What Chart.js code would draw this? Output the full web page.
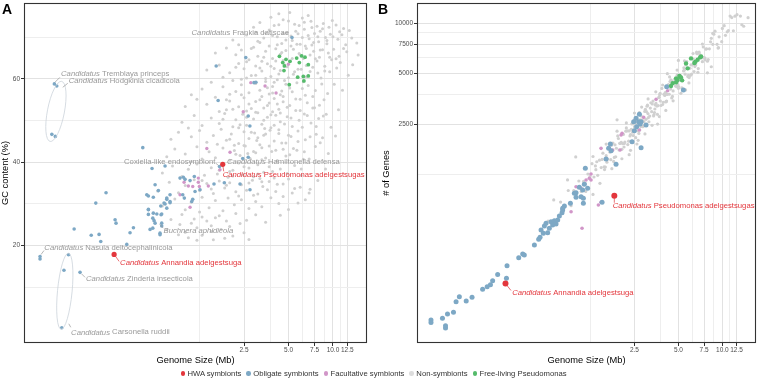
<!DOCTYPE html>
<html>
<head>
<meta charset="utf-8">
<script src="https://cdn.jsdelivr.net/npm/chart.js@4/dist/chart.umd.min.js"></script>
<style>
  html, body { margin: 0; padding: 0; background: #fff; }
  #wrap { position: relative; width: 759px; height: 383px; font-family: "Liberation Sans", Arial, sans-serif; }
  canvas { position: absolute; left: 0; top: 0; }
  #legend { position: absolute; top: 368px; left: 180.5px; display: flex; gap: 5px; font-size: 7.7px; color: #333; line-height: 11px; white-space: nowrap; }
  #legend span { display: flex; align-items: center; }
  #legend i { display: inline-block; width: 4.4px; height: 4.4px; border-radius: 50%; margin-right: 2.5px; }
</style>
</head>
<body>
<div id="wrap">
  <canvas id="chartA" width="759" height="383"></canvas>
  <canvas id="chartB" width="759" height="383"></canvas>
  <div id="legend"></div>
</div>
<script>
// ---- datos: tamaño de genoma (Mb), contenido GC (%) y número de genes ----
const groupNames = ['HWA symbionts', 'Obligate symbionts', 'Facultative symbionts', 'Non-symbionts', 'Free-living Pseudomonas'];
const groupColors = ['#e3363c', '#7da8c5', '#d196c8', '#d0d0d0', '#55bb6b'];

const xGrid = [1.25, 2.5, 3.75, 5, 6.25, 7.5, 8.75, 10, 11.25, 12.5];
const xTickValues = [2.5, 5, 7.5, 10, 12.5];
const xTickLabels = ['2.5', '5.0', '7.5', '10.0', '12.5'];
const gcGrid = [10, 20, 30, 40, 50, 60, 70];
const gcTicks = [20, 40, 60];
const geneGrid = [1250, 2500, 3750, 5000, 6250, 7500, 8750, 10000];
const geneTicks = [2500, 5000, 7500, 10000];

// Panel A: [Mb, GC %]
const hwaA = [[0.330, 17.9], [1.794, 39.5]];
const obligateA = [
  [5.28,69.9],[2.57,65.1],[1.62,63.1],[2.92,59.1],[3.01,59.2],[1.67,54.8],[2.67,51.1],[2.74,48.7],
  [0.130,58.8],[0.135,58.3],[0.125,46.7],[0.132,46.2],[0.516,43.5],[0.596,38.5],[0.73,39.1],
  [2.45,40.9],[2.67,41.2],[0.291,32.7],[0.248,30.2],[0.177,24.0],[0.231,22.5],[0.261,22.7],[0.268,21.0],
  [0.335,26.2],[0.34,25.4],[0.402,20.3],[0.446,24.3],[0.423,23.1],[0.549,32.2],[0.608,31.6],[0.563,28.7],
  [0.563,27.5],[0.686,27.4],[0.730,30.0],[0.789,30.3],[0.75,29.0],[0.693,25.4],[0.675,23.0],[0.603,24.2],
  [0.789,32.2],[0.75,31.4],[0.986,31.4],[0.962,32.2],[0.162,17.8],[0.151,14.1],[0.146,0.3],[0.104,17.4],
  [0.104,16.8],[0.194,13.6],[0.922,36.2],[0.971,36.4],[1.078,35.6],[1.152,36.6],[1.165,33.0],[1.259,33.4],
  [1.566,34.8],[1.124,31.1],[0.625,34.6],[0.658,33.2],[0.563,31.9],[0.75,31.1],[0.719,30.2],[0.789,30.6],
  [0.683,29.5],[0.563,28.6],[0.608,27.8],[0.693,27.6],[0.642,27.6],[0.603,26.6],[0.615,26.0],[0.625,25.4],
  [0.578,23.9],[0.693,24.7],[0.675,22.6],[1.839,35.1],[2.349,34.8],[2.744,33.4],[0.997,35.9],[1.107,30.6],
  [1.706,39.0]
];
const facultativeA = [
  [2.78,59.1],[3.47,58.3],[4.12,56.6],[2.47,52.1],[1.40,43.3],[2.01,42.4],[4.99,63.5],[0.922,32.2],
  [1.078,29.2],[0.982,35.2],[1.05,34.3],[1.124,34.2],[1.226,35.2],[1.246,34.2],[1.433,34.3],[1.718,38.2],
  [1.226,36.2]
];
const pseudoA = [
  [4.34,65.4],[4.57,63.9],[4.81,64.7],[4.69,63.1],[5.12,64.2],[5.68,65.0],[6.14,65.5],[6.47,65.2],
  [5.92,63.9],[6.81,63.4],[4.66,62.0],[5.77,60.4],[6.30,60.6],[6.81,60.7],[6.36,59.5],[5.06,58.6]
];
const nonSymA = [
  [2.9,72.4],[3.2,73.5],[3.8,74.8],[4.0,72.8],[4.3,75.6],[4.6,74.2],[5.1,75.9],[5.5,73.1],[6.2,74.6],[6.8,75.2],
  [7.1,73.8],[7.8,72.6],[8.6,73.3],[9.4,72.4],[9.9,74.0],[10.5,72.9],[11.8,72.1],[12.9,71.6],
  [2.1,69.3],[2.3,68.2],[2.6,70.5],[3.0,71.2],[3.2,68.7],[3.4,69.8],[3.7,71.7],[4.2,70.1],[4.5,68.5],[4.9,71.0],
  [5.3,69.2],[5.8,70.8],[6.0,68.3],[6.4,71.9],[6.9,69.6],[7.2,68.1],[7.5,70.9],[8.0,68.9],[8.2,71.4],[8.9,69.9],
  [9.1,68.4],[9.6,70.7],[10.8,69.5],[11.5,70.6],[12.2,68.2],[13.4,69.8],[14.5,68.6],
  [1.6,66.2],[1.9,67.4],[2.2,65.8],[2.4,66.9],[2.7,64.6],[2.9,67.6],[3.1,65.4],[3.3,64.2],[3.5,66.6],[3.9,64.9],
  [4.1,67.2],[4.4,65.9],[4.6,64.4],[4.8,66.8],[5.2,67.9],[5.9,66.1],[6.3,64.9],[6.6,67.3],[7.0,65.7],[7.4,66.6],
  [7.8,64.3],[8.1,65.2],[8.5,67.0],[9.3,66.2],[9.8,64.6],[10.1,67.1],[11.0,65.4],[11.2,63.9],[12.4,66.5],[13.6,63.4],[14.8,65.7],
  [1.4,62.1],[1.7,63.3],[1.8,60.4],[2.0,61.5],[2.3,63.7],[2.5,62.4],[2.6,60.2],[2.8,60.8],[3.0,63.1],[3.3,61.9],
  [3.5,60.1],[3.6,63.6],[3.8,60.6],[4.0,62.5],[4.3,61.2],[4.7,63.4],[5.0,60.3],[5.4,61.1],[6.1,62.3],[6.6,60.5],
  [7.3,62.8],[7.9,61.4],[8.3,60.2],[8.8,63.0],[9.5,61.7],[10.6,62.6],[12.7,60.9],
  [1.1,56.2],[1.3,57.6],[1.5,59.2],[1.8,58.1],[2.0,56.3],[2.1,59.6],[2.2,57.0],[2.4,58.6],[2.7,56.7],[3.0,58.9],
  [3.2,57.3],[3.5,59.4],[3.7,56.4],[3.9,58.2],[4.2,59.8],[4.4,56.2],[4.5,57.1],[4.8,58.7],[5.3,56.9],[5.7,59.1],
  [6.2,57.7],[6.5,56.1],[6.8,58.4],[7.6,57.2],[8.4,58.8],[9.2,56.5],[10.2,58.7],[11.6,57.3],
  [1.0,53.4],[1.2,55.1],[1.4,53.9],[1.6,55.6],[1.7,52.2],[1.9,52.6],[2.0,54.7],[2.3,53.3],[2.5,55.5],[2.6,52.3],
  [2.8,52.9],[3.0,54.6],[3.3,55.8],[3.4,53.0],[3.7,54.2],[3.9,52.1],[4.0,55.3],[4.3,52.7],[4.6,54.5],[5.1,53.6],
  [5.6,55.2],[6.0,52.4],[6.7,54.3],[7.3,55.8],[7.5,53.1],[8.1,53.7],[8.7,55.0],[10.9,52.6],
  [0.95,49.6],[1.05,48.2],[1.15,51.2],[1.3,48.8],[1.5,50.6],[1.7,49.3],[1.85,51.7],[2.1,48.5],[2.2,50.2],[2.35,49.0],
  [2.45,51.5],[2.6,48.9],[2.9,50.4],[3.1,51.9],[3.3,49.1],[3.45,48.1],[3.6,50.8],[3.8,48.3],[4.1,51.3],[4.4,49.7],
  [4.9,50.9],[5.3,48.6],[5.9,50.1],[6.4,51.6],[7.1,49.4],[8.0,50.5],[9.0,51.5],[9.7,48.4],
  [0.8,45.5],[0.9,47.2],[1.1,46.1],[1.25,47.6],[1.4,44.8],[1.55,46.4],[1.65,44.3],[1.75,47.9],[1.9,45.3],[2.05,46.8],
  [2.15,44.1],[2.3,44.5],[2.5,47.3],[2.7,45.7],[2.95,47.0],[3.05,45.2],[3.2,44.2],[3.4,46.5],[3.75,47.7],[4.0,45.1],
  [4.3,46.9],[4.8,44.6],[5.2,46.2],[5.8,47.5],[6.5,45.4],[7.7,46.7],[8.5,45.9],[10.4,46.3],
  [0.75,41.3],[0.85,43.2],[1.0,42.0],[1.1,40.2],[1.2,43.7],[1.3,40.8],[1.45,42.5],[1.6,41.1],[1.8,43.4],[2.0,40.5],
  [2.15,42.8],[2.35,41.6],[2.55,43.9],[2.65,42.1],[2.75,40.9],[3.0,42.3],[3.3,43.5],[3.5,41.0],[3.85,42.6],[4.2,40.4],
  [4.6,43.1],[5.1,41.8],[5.7,42.9],[6.3,40.7],[6.9,40.8],[7.6,43.8],[9.3,42.1],
  [0.7,37.4],[0.82,39.1],[0.95,36.6],[1.05,38.3],[1.2,39.6],[1.35,36.9],[1.5,38.7],[1.65,37.2],[1.8,39.3],[1.95,36.4],
  [2.0,37.8],[2.1,38.1],[2.3,39.8],[2.45,37.0],[2.7,38.6],[2.9,36.5],[3.1,39.4],[3.2,36.1],[3.4,37.6],[3.7,38.9],
  [4.0,36.2],[4.4,38.4],[4.9,37.3],[5.5,39.2],[6.1,36.8],[7.9,35.6],[8.9,38.4],
  [0.65,33.1],[0.78,35.2],[0.9,32.7],[1.0,34.4],[1.15,35.8],[1.25,33.2],[1.4,34.9],[1.55,32.5],[1.7,35.5],[1.85,33.8],
  [2.0,35.1],[2.2,32.9],[2.4,34.6],[2.6,33.3],[2.85,35.7],[3.1,32.4],[3.35,34.2],[3.7,35.4],[4.1,33.0],[4.6,34.8],
  [5.3,32.6],[6.0,34.0],[6.9,32.6],[7.0,33.5],
  [0.7,29.5],[0.85,31.2],[1.0,28.6],[1.1,30.4],[1.25,28.1],[1.3,31.6],[1.45,29.1],[1.6,30.8],[1.8,28.4],[1.95,31.4],
  [2.15,29.8],[2.4,31.0],[2.7,28.9],[3.0,30.6],[3.3,29.3],[3.8,31.5],[4.3,30.1],[5.0,28.7],[5.8,30.2],[6.5,31.0],
  [0.75,23.8],[0.8,26.3],[0.95,27.5],[1.1,25.4],[1.2,24.3],[1.3,26.9],[1.5,24.8],[1.7,27.2],[1.9,25.9],[2.2,27.7],
  [2.6,26.1],[3.0,27.4],[3.5,25.6],[4.4,27.3],[0.9,22.6],[1.2,21.3],[1.5,23.4],
  [0.92,25.1],[1.0,23.2],[1.05,21.9],[1.15,26.4],[1.3,22.5],[1.4,25.9],[1.55,21.4],[1.6,26.7],[1.75,23.9],[1.85,21.8],
  [2.0,24.6],[2.1,22.3],[2.35,25.3],[2.5,23.1],[2.7,21.5],
  [2.2,62.8],[2.4,59.9],[2.6,64.1],[2.8,67.3],[3.0,60.9],[3.1,69.0],[3.2,62.6],[3.4,65.2],[3.5,71.0],[3.6,57.9],
  [3.7,67.9],[3.8,63.0],[3.9,70.4],[4.0,59.2],[4.1,64.3],[4.2,68.2],[4.3,73.0],[4.4,62.0],[4.5,66.3],[4.6,70.9],
  [4.7,59.6],[4.8,69.3],[4.9,62.9],[5.0,73.9],[5.1,57.8],[5.2,70.3],[5.3,64.9],[5.4,67.1],[5.5,61.7],[5.6,71.4],
  [5.7,68.3],[5.8,62.3],[5.9,72.8],[6.0,65.7],[6.2,69.9],[6.3,59.3],[6.4,73.6],[6.5,67.9],[6.6,63.2],[6.8,70.4],
  [7.0,61.8],[7.2,72.3],[7.4,68.7],[7.6,64.8],[7.9,70.1],[8.2,66.9],[8.5,72.0],[8.8,61.9],[9.1,69.2],[9.5,65.2],
  [10.0,70.1],[10.5,64.8],[11.1,71.3],[11.8,67.3],
  [1.8,50.3],[1.9,55.0],[2.0,45.5],[2.1,52.7],[2.2,41.9],[2.3,48.3],[2.4,56.2],[2.5,44.0],[2.6,50.8],[2.7,54.0],
  [2.8,47.2],[2.9,42.6],[3.0,52.0],[3.1,45.9],[3.2,55.0],[3.3,40.6],[3.4,50.1],[3.5,46.8],[3.6,53.6],[3.7,43.9],
  [3.8,51.4],[3.9,56.6],[4.0,48.9],[4.1,42.9],[4.2,54.0],[4.3,47.8],[4.4,51.8],[4.5,44.6],[4.6,55.8],[4.7,49.2],
  [4.8,41.5],[4.9,53.2],[5.0,46.5],[5.2,50.6],[5.4,43.3],[5.6,52.4],[5.8,45.0],[6.0,55.1],[6.2,48.4],[6.4,42.5],
  [6.7,51.2],[7.0,46.1],[7.3,53.0],[7.7,48.6],[8.2,44.7],[8.6,51.1],
  [1.3,35.6],[1.5,33.6],[1.7,38.1],[1.9,34.5],[2.1,36.7],[2.3,31.9],[2.5,38.9],[2.7,35.0],[2.9,32.1],[3.1,37.2],
  [3.3,35.3],[3.6,33.4],[3.9,37.8],[4.2,34.7],[4.6,31.8],[5.0,36.0],[5.5,33.7],[6.1,38.4]
];

// Panel B: [Mb, número de genes]
const hwaB = [[0.327, 279], [1.82, 933]];
const obligateB = [
  [0.101,169],[0.101,163],[0.121,173],[0.131,183],[0.144,188],[0.127,156],[0.127,151],[0.158,232],[0.150,217],
  [0.176,219],[0.193,231],[0.228,258],[0.245,267],[0.258,274],[0.267,290],[0.289,316],[0.335,356],[0.332,300],
  [0.403,398],[0.429,418],[0.44,413],[0.516,473],[0.552,512],[0.564,526],[0.573,582],[0.594,556],[0.604,615],
  [0.620,638],[0.636,561],[0.653,596],[0.671,652],[0.688,623],[0.707,661],[0.726,632],[0.745,668],[0.765,706],
  [0.798,738],[0.806,766],[0.828,810],[0.969,964],[0.995,912],[1.117,840],[1.117,900],[1.50,852],
  [1.152,1359],[1.134,1091],[1.195,1033],[1.105,1009],[1.048,1047],[0.995,972],[0.910,840],[0.806,784],[1.077,920],
  [1.597,1545],[1.71,1899],[1.664,1790],[1.729,1732],[1.87,1436],[2.407,1960],[2.775,1805],[2.496,2280],[2.588,2409],
  [2.469,2581],[2.672,2581],[2.775,2581],[2.732,2500],[3.002,2466],[2.702,2857],[2.565,2704],[4.155,4177],[5.408,3992]
];
const facultativeB = [
  [0.920,748],[1.094,596],[1.415,821],[1.476,852],[2.056,2200],[1.992,1749],[1.26,1257],[1.227,1185],[1.26,1157],
  [1.165,1157],[1.077,1033],[0.995,1055],[2.496,2617],[3.516,3512],[4.22,3954],[2.89,2742],[2.70,2302],[1.476,1790],
  [2.024,2149],[1.773,1749],[5.13,4860]
];
const pseudoB = [
  [6.10,6170],[6.54,5890],[7.04,6260],[5.64,5760],[5.79,5380],[4.82,4690],[5.08,4840],[4.57,4380],[4.45,4220],
  [5.21,4750],[4.94,4580],[7.15,6340],[6.77,6060],[5.30,4560],[4.82,4440],[6.43,5790]
];
const nonSymB = [
  [0.64,657],[0.71,652],[0.78,855],[0.83,798],[0.88,1002],[0.92,814],[0.96,1001],[1.0,970],[1.04,1142],[1.08,989],
  [1.12,1135],[1.16,989],[1.2,1258],[1.24,1212],[1.28,1450],[1.32,1207],[1.36,1335],[1.4,1235],[1.44,1522],[1.48,1374],
  [1.52,1675],[1.56,1337],[1.6,1618],[1.64,1544],[1.68,1792],[1.72,1532],[1.76,1735],[1.8,1495],[1.84,1880],[1.88,1792],
  [1.92,2123],[1.96,1750],[2.0,1918],[2.05,1767],[2.1,2169],[2.15,1950],[2.2,2371],[2.25,1886],[2.3,2275],[2.35,2165],
  [2.4,2505],[2.45,2136],[2.5,2413],[2.55,2073],[2.6,2602],[2.65,2474],[2.7,2926],[2.76,2415],[2.82,2650],[2.88,2433],
  [2.94,2976],[3.0,2669],[3.07,3243],[3.14,2580],[3.21,3113],[3.28,2963],[3.35,3428],[3.43,2931],[3.51,3321],[3.59,2860],
  [3.67,3599],[3.76,3437],[3.85,4084],[3.94,3375],[4.03,3707],[4.13,3414],[4.23,4189],[4.33,3768],[4.44,4588],[4.55,3656],
  [4.66,4419],[4.78,4221],[4.9,4900],[5.02,4192],[5.15,4761],[5.28,4110],[5.42,5192],[5.56,4967],[5.7,5905],[5.85,4894],
  [6.0,5389],[6.16,4972],[6.32,6112],[6.49,5512],[6.66,6717],[6.84,5363],[7.02,6495],[7.21,6212],[7.4,7219],[7.6,6191],
  [7.8,7034],[8.0,6073],[8.3,7749],[8.6,7483],[8.9,8977],[9.2,7489],[9.5,8299],[9.9,7765],[10.3,9671],[10.8,8895],
  [11.3,11041],[11.9,9025],[12.6,11257],[13.3,11039],
  [1.5,1537],[1.62,1480],[1.74,1868],[1.86,1595],[1.98,1919],[2.08,1910],[2.18,2267],[2.28,1975],[2.38,2327],[2.48,2301],
  [2.58,2729],[2.68,2198],[2.78,2797],[2.9,2585],[3.02,2967],[3.11,2731],[3.24,3351],[3.38,2796],[3.47,3253],[3.63,3226],
  [3.72,3747],[3.9,3271],[4.08,3863],[4.18,3759],[4.38,4490],[4.5,3577],[4.72,4601],[4.85,4191],[5.08,4839],[5.35,4549],
  [5.63,5634],[5.92,4736],[6.24,5647],[6.57,5633],[6.93,6725],[7.3,5896],[7.7,7016],[8.15,7042],[8.75,8605],[9.35,7113],
  [10.0,9320],[11.0,9050],[12.2,11025],
  [1.15,1107],[1.35,1406],[1.55,1389],[1.7,1696],[1.82,1580],[1.94,2050],[2.03,1945],[2.13,1913],[2.23,2274],[2.33,2125],
  [2.43,2235],[2.53,2537],[2.63,2283],[2.73,2647],[2.85,2409],[2.97,3061],[3.09,2888],[3.18,2789],[3.31,3297],[3.45,3075],
  [3.56,3200],[3.69,3617],[3.8,3227],[3.98,3774],[4.1,3390],[4.27,4305],[4.42,4043],[4.6,3946],[4.8,4675],[4.95,4317],
  [5.2,4570],[5.5,5264],[5.8,4802],[6.1,5637],[6.4,5153],[6.75,6621],[7.1,6312],[7.5,6247],
  [0.87,1160],[0.99,1590],[1.9,2650],[2.3,1640],[3.6,2500],[5.6,4000],[7.9,5060],[4.2,5000],[8.4,5500],[14.0,9600],
  [15.0,10800],[2.6,1900],[1.3,950],[0.7,880],[5.0,6000],[13.6,9800],
  [1.3,1600],[1.45,1106],[1.6,1898],[1.75,1354],[1.9,2267],[2.05,1551],[2.2,2539],[2.35,1741],[2.5,2910],[2.65,1999],
  [2.8,3158],[2.95,2184],[3.1,3534],[3.3,2458],[3.5,3896],[3.7,2771],[3.9,4278],[4.1,3014],[4.35,4780],[4.6,3442],
  [4.9,5256],[5.2,3816],[5.5,5959],[5.9,4403],[6.3,6601],[6.8,5091],[7.3,7516],[7.9,5932],[8.6,8693],[9.4,7149],
  [1.38,1489],[1.58,1384],[1.78,1925],[2.12,1823],[2.42,2525],[2.72,2305],[3.05,3195],[3.4,2844],[3.75,3812],[4.15,3429],
  [4.5,4523],[5.0,4086],[5.45,5416],[6.05,4888],[6.7,6575],[7.6,6056],[8.4,8132],[10.5,8480],[11.6,10811]
];

// ---- utilidades ----
const FAM = '"Liberation Sans", Arial, sans-serif';
const labelGrey = '#999999';
const red = groupColors[0];

function ds(data, color, r, order) {
  return {
    data: data.map(p => ({ x: p[0], y: p[1] })),
    backgroundColor: color,
    borderWidth: 0,
    pointRadius: r,
    pointHoverRadius: r,
    order: order
  };
}

function gridOpts(majors) {
  return {
    color: c => majors.includes(c.tick.value) ? '#e2e2e2' : '#eeeeee',
    lineWidth: 1,
    drawTicks: true,
    tickLength: 3,
    tickWidth: 1,
    tickColor: c => majors.includes(c.tick.value) ? '#333333' : 'rgba(0,0,0,0)'
  };
}

const tickFont = { family: FAM, size: 6.5 };

// Dibuja borde, textos de ejes, etiquetas y elipses
function makeAnnot(cfg) {
  return {
    id: 'annot' + cfg.letter,
    afterDatasetsDraw(chart) {
      const ctx = chart.ctx;
      const x = chart.scales.x, y = chart.scales.y;
      ctx.save();
      cfg.ellipses.forEach(e => {
        ctx.beginPath();
        ctx.ellipse(x.getPixelForValue(e.x), y.getPixelForValue(e.y), e.rx, e.ry, e.rot, 0, Math.PI * 2);
        ctx.strokeStyle = '#cbd3da';
        ctx.lineWidth = 0.8;
        ctx.stroke();
      });
      cfg.labels.forEach(l => {
        const px = x.getPixelForValue(l.x), py = y.getPixelForValue(l.y);
        if (l.leader) {
          ctx.beginPath();
          ctx.moveTo(px + l.leader[0], py + l.leader[1]);
          ctx.lineTo(px + l.leader[2], py + l.leader[3]);
          ctx.strokeStyle = l.color;
          ctx.lineWidth = 0.7;
          ctx.stroke();
        }
        const fonts = l.parts.map(p => (p[1] ? 'italic ' : '') + '7.7px ' + FAM);
        const widths = l.parts.map((p, i) => { ctx.font = fonts[i]; return ctx.measureText(p[0]).width; });
        const total = widths.reduce((s, w) => s + w, 0);
        let tx = px + l.dx - (l.align === 'right' ? total : 0);
        ctx.fillStyle = l.color;
        ctx.textAlign = 'left';
        ctx.textBaseline = 'middle';
        l.parts.forEach((p, i) => {
          ctx.font = fonts[i];
          ctx.fillText(p[0], tx, py + l.dy);
          tx += widths[i];
        });
      });
      ctx.restore();
    },
    afterDraw(chart) {
      const ctx = chart.ctx, a = chart.chartArea;
      ctx.save();
      ctx.strokeStyle = '#333333';
      ctx.lineWidth = 1.1;
      ctx.strokeRect(a.left + 0.5, a.top + 0.5, a.right - a.left - 1, a.bottom - a.top - 1);
      ctx.fillStyle = '#000';
      ctx.font = 'bold 14px ' + FAM;
      ctx.textAlign = 'left';
      ctx.textBaseline = 'alphabetic';
      ctx.fillText(cfg.letter, cfg.letterX, 13.5);
      ctx.font = '9.3px ' + FAM;
      ctx.textAlign = 'center';
      ctx.textBaseline = 'middle';
      ctx.fillText('Genome Size (Mb)', (a.left + a.right) / 2, 360);
      ctx.translate(cfg.yTitleX, (a.top + a.bottom) / 2);
      ctx.rotate(-Math.PI / 2);
      ctx.fillText(cfg.yTitle, 0, 0);
      ctx.restore();
    }
  };
}

function xScale() {
  return {
    type: 'logarithmic',
    min: 0.081, max: 17.0,
    bounds: 'data',
    afterBuildTicks: s => { s.ticks = xGrid.map(v => ({ value: v })); },
    afterFit: s => { s.height = 40; s.paddingLeft = 0; s.paddingRight = 0; },
    grid: gridOpts(xTickValues),
    border: { display: false },
    ticks: {
      autoSkip: false, maxRotation: 0, minRotation: 0, padding: 0,
      color: '#4d4d4d', font: tickFont,
      callback: v => { const i = xTickValues.indexOf(v); return i >= 0 ? xTickLabels[i] : ''; }
    }
  };
}

const annotA = makeAnnot({
  letter: 'A', letterX: 2, yTitle: 'GC content (%)', yTitleX: 5.5,
  ellipses: [
    { x: 0.1332, y: 52.2, rx: 8.5, ry: 30.6, rot: 0.19 },
    { x: 0.153, y: 9.06, rx: 7.3, ry: 38.2, rot: 0.096 }
  ],
  labels: [
    { x: 5.28, y: 69.9, dx: -3, dy: -5, align: 'right', color: labelGrey, parts: [['Candidatus', true], [' Frankia datiscae', false]] },
    { x: 0.130, y: 58.8, dx: 6.7, dy: -10, color: labelGrey, leader: [0.5, -1.5, 5.5, -6.5], parts: [['Candidatus', true], [' Tremblaya princeps', false]] },
    { x: 0.135, y: 58.3, dx: 12, dy: -4.7, color: labelGrey, leader: [6, 1.3, 11, -2.7], parts: [['Candidatus', true], [' Hodgkinia cicadicola', false]] },
    { x: 1.706, y: 39.0, dx: -4, dy: -4.2, align: 'right', color: labelGrey, leader: [-3.5, -3, -1, -1], parts: [['Coxiella-like endosymbiont', false]] },
    { x: 1.794, y: 39.5, dx: 4.2, dy: -2, color: labelGrey, parts: [['Candidatus', true], [' Hamiltonella defensa', false]] },
    { x: 1.794, y: 39.5, dx: 0, dy: 10.7, color: red, leader: [0.3, 2.5, 1, 7], parts: [['Candidatus', true], [' Pseudomonas adelgestsugas', false]] },
    { x: 0.693, y: 25.4, dx: 1.8, dy: 7.4, color: labelGrey, leader: [-2, 1, 1.5, 5], parts: [['Buchnera aphidicola', true]] },
    { x: 0.104, y: 17.4, dx: 4.3, dy: -8.4, color: labelGrey, leader: [1, -2, 4, -6], parts: [['Candidatus', true], [' Nasuia deltocephalinicola', false]] },
    { x: 0.330, y: 17.9, dx: 6, dy: 8.4, color: red, leader: [1.5, 2, 5, 7], parts: [['Candidatus', true], [' Annandia adelgestsuga', false]] },
    { x: 0.194, y: 13.6, dx: 6, dy: 6.7, color: labelGrey, leader: [1.5, 1.5, 5, 5], parts: [['Candidatus', true], [' Zinderia insecticola', false]] },
    { x: 0.146, y: 0.3, dx: 9.3, dy: 4.6, color: labelGrey, leader: [7, -4, 9, -0.5], parts: [['Candidatus', true], [' Carsonella ruddii', false]] }
  ]
});

const annotB = makeAnnot({
  letter: 'B', letterX: 378, yTitle: '# of Genes', yTitleX: 386.5,
  ellipses: [],
  labels: [
    { x: 1.82, y: 933, dx: -1.7, dy: 10.3, color: red, leader: [0, 2.5, 0, 7], parts: [['Candidatus', true], [' Pseudomonas adelgestsugas', false]] },
    { x: 0.327, y: 279, dx: 6.7, dy: 9, color: red, leader: [1.5, 2, 5.5, 7], parts: [['Candidatus', true], [' Annandia adelgestsuga', false]] }
  ]
});

const common = {
  responsive: false,
  animation: false,
  devicePixelRatio: 1,
  events: [],
  plugins: { legend: { display: false }, tooltip: { enabled: false } }
};

new Chart(document.getElementById('chartA'), {
  type: 'scatter',
  data: {
    datasets: [
      ds(hwaA, groupColors[0], 2.6, 1),
      ds(pseudoA, groupColors[4], 1.9, 2),
      ds(obligateA, groupColors[1], 1.8, 3),
      ds(facultativeA, groupColors[2], 1.7, 4),
      ds(nonSymA, groupColors[3], 1.5, 5)
    ]
  },
  options: Object.assign({}, common, {
    layout: { padding: { left: 0, right: 392, top: 3, bottom: 0 } },
    scales: {
      x: xScale(),
      y: {
        type: 'linear',
        min: -3.35, max: 78.2,
        bounds: 'data',
        afterBuildTicks: s => { s.ticks = gcGrid.map(v => ({ value: v })); },
        afterFit: s => { s.width = 24; s.paddingTop = 0; s.paddingBottom = 0; },
        grid: gridOpts(gcTicks),
        border: { display: false },
        ticks: {
          autoSkip: false, padding: 1, color: '#4d4d4d', font: tickFont,
          callback: v => gcTicks.includes(v) ? String(v) : ''
        }
      }
    }
  }),
  plugins: [annotA]
});

new Chart(document.getElementById('chartB'), {
  type: 'scatter',
  data: {
    datasets: [
      ds(hwaB, groupColors[0], 3.0, 1),
      ds(pseudoB, groupColors[4], 2.2, 2),
      ds(obligateB, groupColors[1], 2.5, 3),
      ds(facultativeB, groupColors[2], 1.8, 4),
      ds(nonSymB, groupColors[3], 1.6, 5)
    ]
  },
  options: Object.assign({}, common, {
    layout: { padding: { left: 380, right: 1, top: 3, bottom: 0 } },
    scales: {
      x: xScale(),
      y: {
        type: 'logarithmic',
        min: 123, max: 13220,
        bounds: 'data',
        afterBuildTicks: s => { s.ticks = geneGrid.map(v => ({ value: v })); },
        afterFit: s => { s.width = 37; s.paddingTop = 0; s.paddingBottom = 0; },
        grid: gridOpts(geneTicks),
        border: { display: false },
        ticks: {
          autoSkip: false, padding: 1, color: '#4d4d4d', font: tickFont,
          callback: v => geneTicks.includes(v) ? String(v) : ''
        }
      }
    }
  }),
  plugins: [annotB]
});

// leyenda común
const legend = document.getElementById('legend');
groupNames.forEach((name, i) => {
  const item = document.createElement('span');
  const dot = document.createElement('i');
  dot.style.background = i === 3 ? '#dcdcdc' : groupColors[i];
  item.appendChild(dot);
  item.appendChild(document.createTextNode(name));
  legend.appendChild(item);
});
</script>
</body>
</html>
